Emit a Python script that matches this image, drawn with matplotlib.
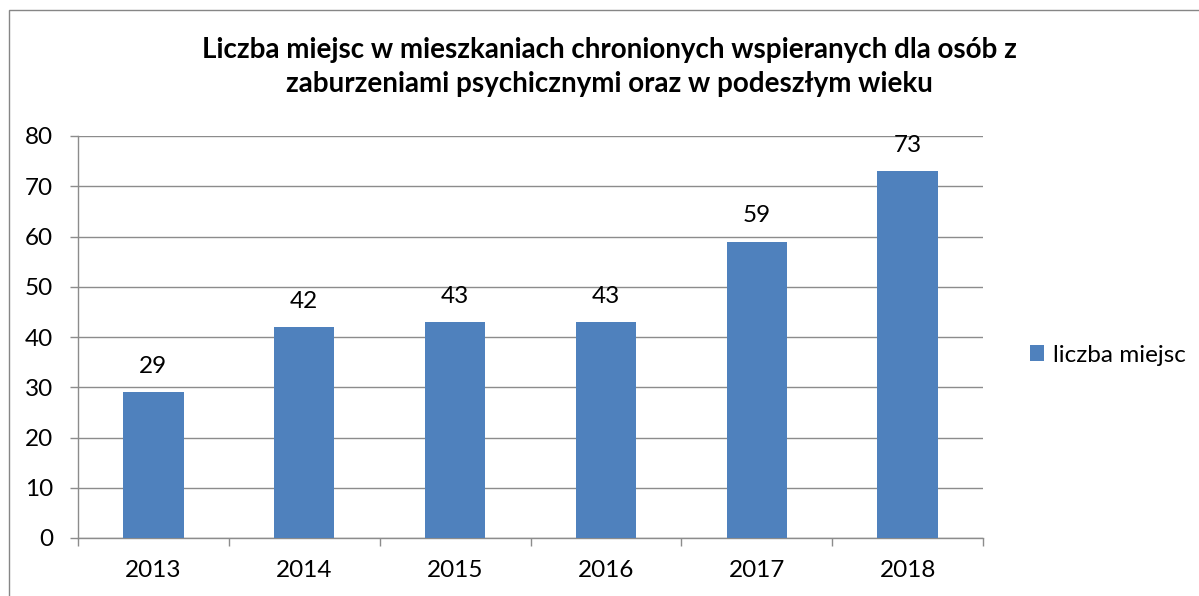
import matplotlib
matplotlib.use("Agg")
import matplotlib.pyplot as plt
from matplotlib.patches import Rectangle

years = ["2013", "2014", "2015", "2016", "2017", "2018"]
values = [29, 42, 43, 43, 59, 73]
series_name = "liczba miejsc"
title = "Liczba miejsc w mieszkaniach chronionych wspieranych dla osób z\nzaburzeniami psychicznymi oraz w podeszłym wieku"
yticks = [0, 10, 20, 30, 40, 50, 60, 70, 80]

plt.rcParams['font.family'] = ['Lato', 'DejaVu Sans']
bar_color = "#4F81BD"
grid_color = "#8C8C8C"
fs = 17.5

fig = plt.figure(figsize=(11.99, 5.96), dpi=100)
W, H = 1199, 596
# outer border
fig.patches.append(Rectangle((9 / W, -0.1), 1.2, 1 - 10 / H + 0.1, transform=fig.transFigure,
                             fill=False, edgecolor="#868686", linewidth=1.0))

left, right, top, bottom = 78, 983, 136, 538
ax = fig.add_axes([left / W, 1 - bottom / H, (right - left) / W, (bottom - top) / H])

x = list(range(len(years)))
bars = ax.bar(x, values, width=0.4, color=bar_color, label=series_name, zorder=3)
ax.set_xlim(-0.5, len(years) - 0.5)
ax.set_ylim(0, 80)
ax.set_yticks(yticks)
ax.set_yticklabels([str(v) for v in yticks], fontsize=fs)
ax.yaxis.grid(True, color=grid_color, linewidth=1.0, zorder=0)
ax.set_xticks(x)
ax.set_xticklabels(years, fontsize=fs)
ax.tick_params(axis='x', length=0, pad=16)
ax.set_xticks([i - 0.5 for i in range(len(years) + 1)], minor=True)
ax.tick_params(axis='x', which='minor', length=6, color=grid_color, width=1.0)
ax.tick_params(axis='y', length=6, color=grid_color, width=1.0, pad=12)
for s in ["top", "right"]:
    ax.spines[s].set_visible(False)
for s in ["left", "bottom"]:
    ax.spines[s].set_color(grid_color)
    ax.spines[s].set_linewidth(1.0)

for xi, v in zip(x, values):
    ax.annotate(str(v), (xi, v), xytext=(0, 11), textcoords="offset points",
                ha="center", va="bottom", fontsize=fs)

fig.text(609 / W, 1 - 67 / H, title, ha="center", va="center", fontsize=20,
         fontweight="bold", linespacing=1.35)

leg = ax.legend(loc="center left", bbox_to_anchor=(1008 / W, 1 - 355 / H),
                bbox_transform=fig.transFigure, frameon=False, fontsize=fs,
                handlelength=0.6, handleheight=0.6, handletextpad=0.35)

fig.savefig("out.png", dpi=100)
